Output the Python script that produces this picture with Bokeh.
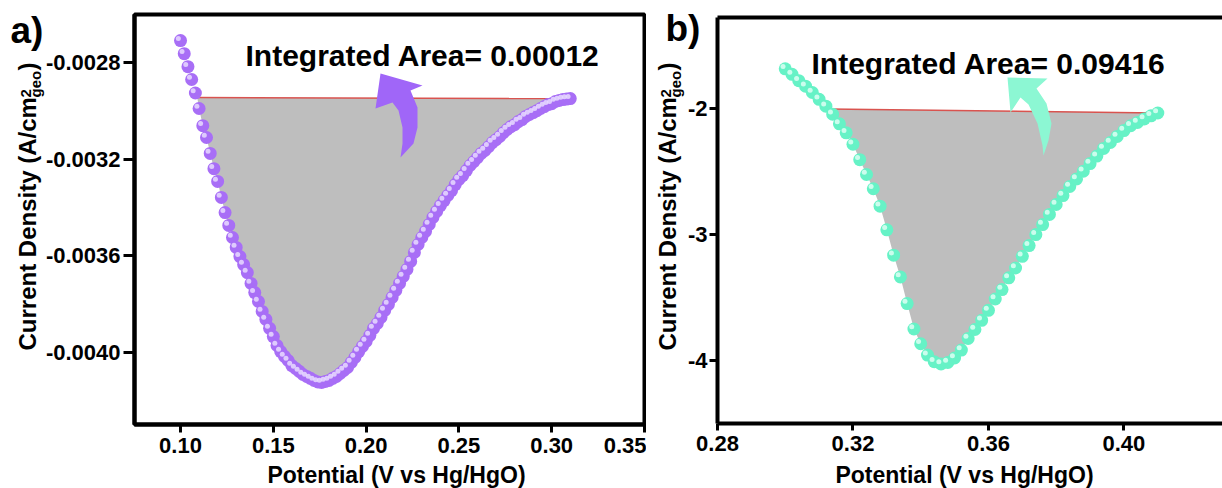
import math
from bokeh.plotting import figure
from bokeh.layouts import row
from bokeh.models import FixedTicker, NumeralTickFormatter, Label, PolyAnnotation, BoxAnnotation
from bokeh.embed import file_html
from bokeh.resources import INLINE

FONT = "Liberation Sans"
H = 488

# ---------------- panel a data ----------------
potential_a = [
    0.100, 0.102, 0.104, 0.106, 0.108, 0.110, 0.112, 0.114, 0.116, 0.118,
    0.120, 0.122, 0.124, 0.126, 0.128, 0.130, 0.132, 0.134, 0.136, 0.138,
    0.140, 0.142, 0.144, 0.146, 0.148, 0.150, 0.152, 0.154, 0.156, 0.158,
    0.160, 0.162, 0.164, 0.166, 0.168, 0.170, 0.172, 0.174, 0.176, 0.178,
    0.180, 0.182, 0.184, 0.186, 0.188, 0.190, 0.192, 0.194, 0.196, 0.198,
    0.200, 0.202, 0.204, 0.206, 0.208, 0.210, 0.212, 0.214, 0.216, 0.218,
    0.220, 0.222, 0.224, 0.226, 0.228, 0.230, 0.232, 0.234, 0.236, 0.238,
    0.240, 0.242, 0.244, 0.246, 0.248, 0.250, 0.252, 0.254, 0.256, 0.258,
    0.260, 0.262, 0.264, 0.266, 0.268, 0.270, 0.272, 0.274, 0.276, 0.278,
    0.280, 0.282, 0.284, 0.286, 0.288, 0.290, 0.292, 0.294, 0.296, 0.298,
    0.300, 0.302, 0.304, 0.306, 0.308, 0.310,
]
current_a = [
    -0.002709, -0.002763, -0.002817, -0.002870, -0.002926, -0.002990, -0.003061, -0.003110, -0.003176, -0.003239,
    -0.003292, -0.003358, -0.003421, -0.003474, -0.003524, -0.003565, -0.003603, -0.003636, -0.003669, -0.003714,
    -0.003752, -0.003789, -0.003830, -0.003863, -0.003900, -0.003934, -0.003971, -0.003996, -0.004016, -0.004033,
    -0.004054, -0.004066, -0.004078, -0.004091, -0.004099, -0.004107, -0.004116, -0.004122, -0.004124, -0.004120,
    -0.004116, -0.004107, -0.004099, -0.004087, -0.004074, -0.004062, -0.004041, -0.004020, -0.003996, -0.003975,
    -0.003954, -0.003929, -0.003900, -0.003880, -0.003855, -0.003826, -0.003801, -0.003772, -0.003743, -0.003714,
    -0.003685, -0.003656, -0.003623, -0.003586, -0.003553, -0.003524, -0.003499, -0.003470, -0.003441, -0.003416,
    -0.003392, -0.003371, -0.003350, -0.003330, -0.003305, -0.003284, -0.003268, -0.003247, -0.003226, -0.003210,
    -0.003193, -0.003176, -0.003164, -0.003148, -0.003131, -0.003119, -0.003106, -0.003090, -0.003077, -0.003065,
    -0.003057, -0.003044, -0.003036, -0.003023, -0.003015, -0.003007, -0.002999, -0.002990, -0.002982, -0.002974,
    -0.002970, -0.002961, -0.002957, -0.002953, -0.002951, -0.002949,
]
baseline_a_x = [0.109, 0.310]
baseline_a_y = [-0.002945, -0.002949]
area_a = "0.00012"
xticks_a = [0.10, 0.15, 0.20, 0.25, 0.30, 0.35]
yticks_a = [-0.0028, -0.0032, -0.0036, -0.0040]
xlim_a = (0.0752, 0.35)
ylim_a = (-0.004298, -0.002601)

# ---------------- panel b data ----------------
potential_b = [
    0.300, 0.302, 0.304, 0.306, 0.308, 0.310, 0.312, 0.314, 0.316, 0.318,
    0.320, 0.322, 0.324, 0.326, 0.328, 0.330, 0.332, 0.334, 0.336, 0.338,
    0.340, 0.342, 0.344, 0.346, 0.348, 0.350, 0.352, 0.354, 0.356, 0.358,
    0.360, 0.362, 0.364, 0.366, 0.368, 0.370, 0.372, 0.374, 0.376, 0.378,
    0.380, 0.382, 0.384, 0.386, 0.388, 0.390, 0.392, 0.394, 0.396, 0.398,
    0.400, 0.402, 0.404, 0.406, 0.408, 0.410,
]
current_b = [
    -1.681, -1.725, -1.775, -1.819, -1.869, -1.923, -1.978, -2.042, -2.118, -2.189,
    -2.280, -2.402, -2.520, -2.633, -2.771, -2.959, -3.160, -3.333, -3.544, -3.746,
    -3.863, -3.953, -4.006, -4.024, -4.012, -3.976, -3.913, -3.821, -3.750, -3.677,
    -3.598, -3.508, -3.433, -3.340, -3.262, -3.169, -3.084, -2.997, -2.917, -2.837,
    -2.758, -2.687, -2.615, -2.555, -2.494, -2.433, -2.374, -2.313, -2.266, -2.218,
    -2.171, -2.133, -2.107, -2.079, -2.054, -2.032,
]
baseline_b_x = [0.3128, 0.410]
baseline_b_y = [-2.000, -2.032]
area_b = "0.09416"
xticks_b = [0.28, 0.32, 0.36, 0.40]
yticks_b = [-2, -3, -4]
xlim_b = (0.28, 0.4291)
ylim_b = (-4.496, -1.274)

X_TITLE = "Potential (V vs Hg/HgO)"
Y_TITLE_MAIN = "Current Density (A/cm"
Y_TITLE_SUP = "2"
Y_TITLE_SUB = "geo"
Y_TITLE_END = ")"

FILL = "#BEBEBE"
RED = "#D9534F"


def panel(width, box_px, xlim, ylim, xt, yt, xfmt, yfmt, xtick, ytick):
    """Figure whose frame covers the whole canvas; the plotting box sits at box_px
    (left, top, right, bottom, canvas pixels) and the axes are pinned to its edges."""
    L, T, R, B = box_px
    sx = (xlim[1] - xlim[0]) / (R - L)
    sy = (ylim[1] - ylim[0]) / (B - T)
    xr = (xlim[0] - L * sx, xlim[1] + (width - R) * sx)
    yr = (ylim[0] - (H - B) * sy, ylim[1] + T * sy)
    p = figure(width=width, height=H, x_range=xr, y_range=yr,
               output_backend="svg", toolbar_location=None,
               min_border=0, min_border_left=0, min_border_right=0,
               min_border_top=0, min_border_bottom=0)
    p.outline_line_color = None
    p.grid.visible = False
    xa, ya = p.xaxis[0], p.yaxis[0]
    xa.fixed_location = ylim[0]
    xa.bounds = xlim
    ya.fixed_location = xlim[0]
    ya.bounds = ylim
    for ax in (xa, ya):
        ax.axis_line_width = 4
        ax.axis_line_color = "black"
        ax.major_tick_line_width = 3
        ax.major_tick_line_color = "black"
        ax.major_tick_in = 0
        ax.minor_tick_line_color = None
        ax.major_label_text_font = FONT
        ax.major_label_text_font_size = "22px"
        ax.major_label_text_font_style = "bold"
        ax.major_label_text_color = "black"
    xa.major_tick_out, xa.major_label_standoff = xtick
    ya.major_tick_out, ya.major_label_standoff = ytick
    xa.ticker = FixedTicker(ticks=xt)
    ya.ticker = FixedTicker(ticks=yt)
    xa.formatter = NumeralTickFormatter(format=xfmt)
    ya.formatter = NumeralTickFormatter(format=yfmt)
    return p


def area_polygon(px, cy, bx, by):
    xs, ys = [bx[0]], [by[0]]
    for x, y in zip(px, cy):
        if bx[0] < x <= bx[1]:
            xs.append(x)
            ys.append(y)
    xs.append(bx[1])
    ys.append(by[1])
    return xs, ys


def spheres(p, x, y, base, hi, width):
    # glossy highlight offset, a pixel expressed in data units
    dx = (p.x_range.end - p.x_range.start) / width
    dy = (p.y_range.end - p.y_range.start) / H
    p.scatter(x, y, size=13, fill_color=base, line_color=None)
    p.scatter([v - 2.2 * dx for v in x], [v + 2.2 * dy for v in y],
              size=5, fill_color=hi, fill_alpha=0.85, line_color=None)


def text(p, ox, X, Y, s, size, angle=0.0, align="left"):
    # (X, Y): page pixels of the text's baseline start (Y from the top).
    # Labels are anchored at their vertical middle, which sits 0.33 em above the baseline.
    up = 0.33 * size
    ax = X - up * math.sin(angle)
    ay = Y - up * math.cos(angle)
    p.add_layout(Label(x=ax - ox, y=H - ay, x_units="screen", y_units="screen",
                       text=s, angle=angle, text_font=FONT, text_font_size=f"{size}px",
                       text_font_style="bold", text_color="black",
                       text_align=align, text_baseline="middle"))


def y_title(p, ox, X, Ybottom):
    up = math.pi / 2
    text(p, ox, X, Ybottom, Y_TITLE_MAIN, 24, up)
    top = Ybottom - 253
    text(p, ox, X - 5, top, Y_TITLE_SUP, 15, up)
    text(p, ox, X + 5, top, Y_TITLE_SUB, 15, up)
    text(p, ox, X, top - 27, Y_TITLE_END, 24, up)


def arrow(p, ox, pts, color):
    p.add_layout(PolyAnnotation(xs=[a - ox for a, b in pts], ys=[H - b for a, b in pts],
                                xs_units="screen", ys_units="screen",
                                fill_color=color, fill_alpha=1.0, line_color=None))


# ---------------- panel a ----------------
W_A = 646
pa = panel(W_A, (134, 14, 644, 424), xlim_a, ylim_a, xticks_a, yticks_a, "0.00", "0.0000",
           xtick=(8, 5), ytick=(11, 3))
pa.add_layout(BoxAnnotation(left=xlim_a[0], right=xlim_a[1], bottom=ylim_a[0], top=ylim_a[1],
                            fill_color=None, fill_alpha=0, line_color="black",
                            line_alpha=1.0, line_width=4))

xs, ys = area_polygon(potential_a, current_a, baseline_a_x, baseline_a_y)
pa.patch(xs, ys, fill_color=FILL, line_color=None)
pa.line(baseline_a_x, baseline_a_y, line_color=RED, line_width=1.5)
spheres(pa, potential_a, current_a, "#A86EF6", "#E8DAFF", W_A)

arrow(pa, 0, [(380, 73), (422, 85), (410, 90), (417, 107), (417, 127), (413, 143),
              (400, 157), (402, 143), (402, 127), (398, 110), (392, 102), (375, 108)],
      "#A066F8")
text(pa, 0, 245, 65, "Integrated Area= " + area_a, 30)
text(pa, 0, 10, 42, "a)", 37)
text(pa, 0, 396, 482, X_TITLE, 23, align="center")
y_title(pa, 0, 35, 350)

# ---------------- panel b ----------------
W_B = 576
pb = panel(W_B, (71, 17, 576, 423), xlim_b, ylim_b, xticks_b, yticks_b, "0.00", "0",
           xtick=(7, 5), ytick=(8, 2))
pb.line([xlim_b[0], xlim_b[1]], [ylim_b[1], ylim_b[1]], line_color="black", line_width=4)

xs, ys = area_polygon(potential_b, current_b, baseline_b_x, baseline_b_y)
pb.patch(xs, ys, fill_color=FILL, line_color=None)
pb.line(baseline_b_x, baseline_b_y, line_color=RED, line_width=1.5)
spheres(pb, potential_b, current_b, "#66F2C6", "#DDFFF3", W_B)

ox = W_A  # page offset of panel b
arrow(pb, ox, [(1007, 77), (1047, 78), (1036, 88), (1046, 103), (1051, 123), (1048, 140),
               (1043, 155), (1042, 145), (1037, 123), (1028, 104), (1020, 97), (1010, 112)],
      "#8CF7D3")
text(pb, ox, 811, 73, "Integrated Area= " + area_b, 30)
text(pb, ox, 665, 40, "b)", 37)
text(pb, ox, 964, 482, X_TITLE, 23, align="center")
y_title(pb, ox, 675, 350)

layout = row(pa, pb)
open("out.html", "w").write(file_html(layout, INLINE))
